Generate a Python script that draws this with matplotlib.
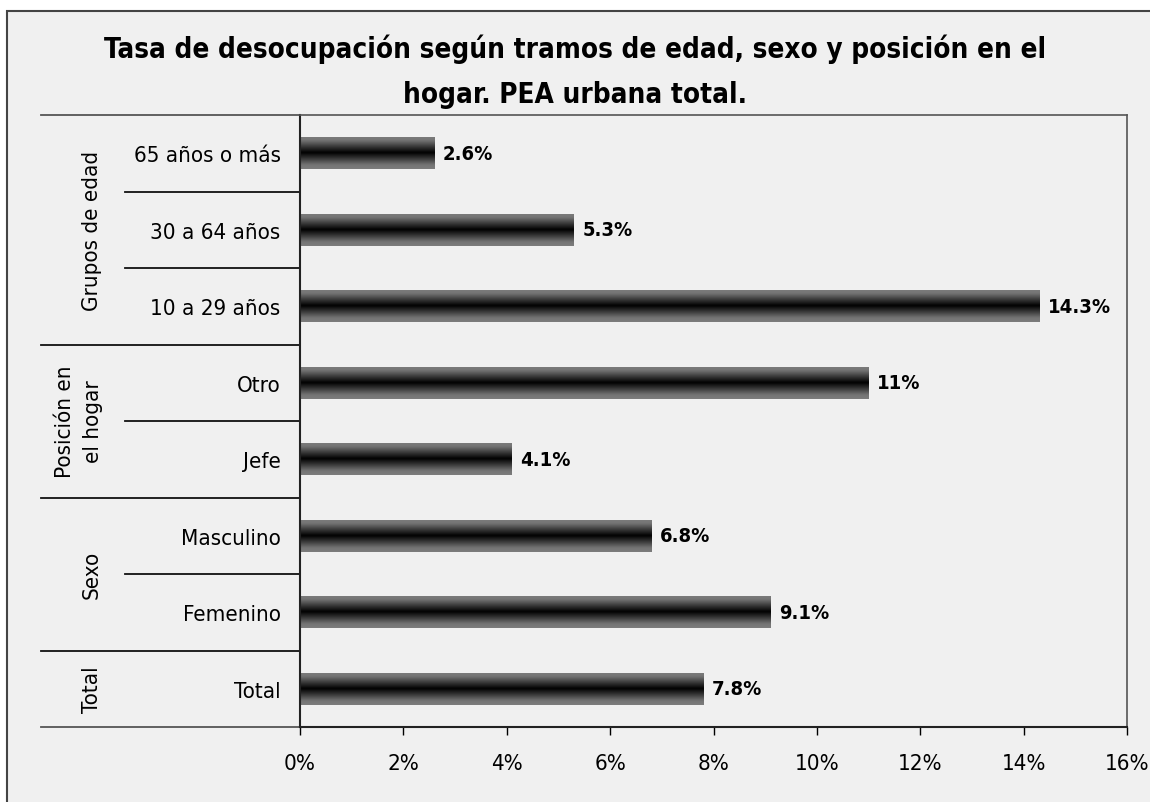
import numpy as np
import matplotlib
matplotlib.use("Agg")
import matplotlib.pyplot as plt
from matplotlib.patches import Rectangle
from matplotlib.colors import LinearSegmentedColormap

plt.rcParams['font.family'] = ['DejaVu Sans']
plt.rcParams['font.stretch'] = 'condensed'

# datos (de abajo hacia arriba)
categorias = ['Total', 'Femenino', 'Masculino', 'Jefe', 'Otro',
              '10 a 29 años', '30 a 64 años', '65 años o más']
valores = [7.8, 9.1, 6.8, 4.1, 11.0, 14.3, 5.3, 2.6]
etiquetas = ['7.8%', '9.1%', '6.8%', '4.1%', '11%', '14.3%', '5.3%', '2.6%']
grupos = ['Total', 'Sexo', 'Posición en\nel hogar', 'Grupos de edad']
grupo_tamanos = [1, 2, 2, 3]
ticks_x = [0, 2, 4, 6, 8, 10, 12, 14, 16]

titulo = 'Tasa de desocupación según tramos de edad, sexo y posición en el\nhogar. PEA urbana total.'

W, H = 1150, 803
bg = '#f0f0f0'
fig = plt.figure(figsize=(W / 100, H / 100), dpi=100, facecolor='white')

# marco exterior (lados derecho e inferior quedan fuera de la imagen)
fig.patches.append(Rectangle((7 / W, -0.05), 1.1, 1.05 - 12 / H,
                             transform=fig.transFigure, facecolor=bg,
                             edgecolor='#444444', linewidth=1.5, zorder=-5))

fig.text(0.5, 1 - 72 / H, titulo, ha='center', va='center',
         fontsize=20, fontweight='bold', linespacing=1.75)

x0, x1, y_top, y_bot = 300, 1127, 116, 728
ax = fig.add_axes([x0 / W, 1 - y_bot / H, (x1 - x0) / W, (y_bot - y_top) / H])
ax.set_facecolor(bg)

pos = np.arange(len(categorias))
bars = ax.barh(pos, valores, height=0.42, color='none', edgecolor='none')

cmap = LinearSegmentedColormap.from_list(
    'barra', [(0, '#7c7c7c'), (0.12, '#747474'), (0.5, '#000000'),
              (0.88, '#747474'), (1, '#7c7c7c')])
grad = np.linspace(0, 1, 64).reshape(-1, 1)
for b in bars:
    bx, by = b.get_x(), b.get_y()
    im = ax.imshow(grad, cmap=cmap, aspect='auto', interpolation='bilinear',
                   extent=[bx, bx + b.get_width(), by, by + b.get_height()],
                   zorder=2)
    im.set_clip_path(b)

for p, v, t in zip(pos, valores, etiquetas):
    ax.annotate(t, (v, p), xytext=(6, 0), textcoords='offset points',
                ha='left', va='center', fontsize=14.5, fontweight='bold')

ax.set_xlim(0, 16)
ax.set_ylim(-0.5, len(categorias) - 0.5)
ax.set_xticks(ticks_x)
ax.set_xticklabels([f'{t}%' for t in ticks_x], fontsize=16)
ax.set_yticks(pos)
ax.set_yticklabels(categorias, fontsize=16)
ax.tick_params(axis='y', length=0, pad=14)
ax.tick_params(axis='x', direction='out', length=6, width=1, pad=13)

for s in ['top', 'right']:
    ax.spines[s].set_color('#555555')
    ax.spines[s].set_linewidth(1.2)
for s in ['left', 'bottom']:
    ax.spines[s].set_color('#222222')
    ax.spines[s].set_linewidth(1.5)

# separadores de la tabla de categorías
trans = ax.get_yaxis_transform()
xg = (41 - x0) / (x1 - x0)
xc = (125 - x0) / (x1 - x0)
limites = np.cumsum([0] + grupo_tamanos) - 0.5
for k in range(len(categorias) + 1):
    yk = k - 0.5
    xs = xg if yk in limites else xc
    col = '#555555' if k in (0, len(categorias)) else '#111111'
    ax.plot([xs, 0], [yk, yk], transform=trans, color=col, lw=1.3, clip_on=False)

# etiquetas de grupo
xlab = {'Posición en\nel hogar': (79 - x0) / (x1 - x0)}
for g, a, b in zip(grupos, limites[:-1], limites[1:]):
    ax.text(xlab.get(g, (92 - x0) / (x1 - x0)), (a + b) / 2, g, transform=trans,
            rotation=90, ha='center', va='center', fontsize=16,
            linespacing=1.55, clip_on=False)

fig.savefig('out.png', dpi=100, facecolor='white')
